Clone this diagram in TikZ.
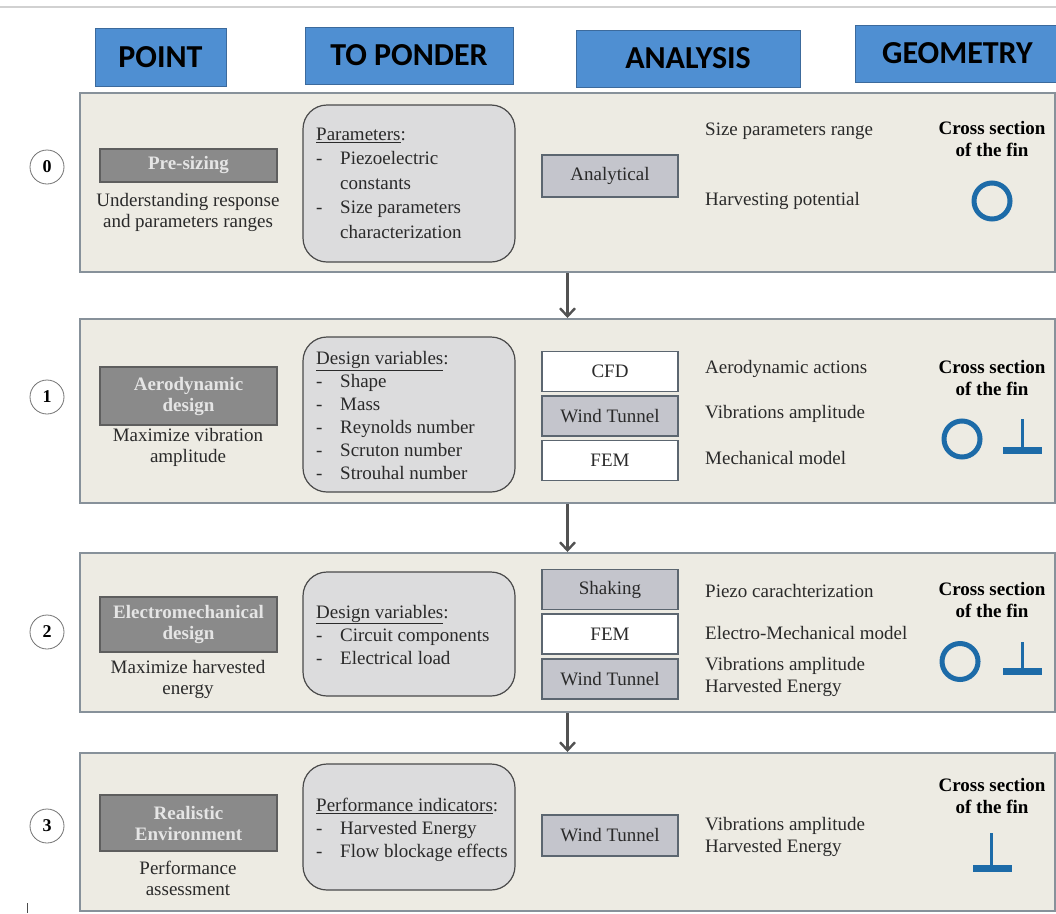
\documentclass[tikz,border=0pt]{standalone}
\usepackage{fontspec}
\setmainfont{Liberation Serif}
\newfontfamily\hdrfont{Carlito}
\usetikzlibrary{arrows.meta}
\definecolor{hdrblue}{HTML}{4F8FD2}
\definecolor{hdredge}{HTML}{3C6A9C}
\definecolor{panelfill}{HTML}{EDEBE3}
\definecolor{paneledge}{HTML}{87919A}
\definecolor{darkbox}{HTML}{8A8A8A}
\definecolor{darkedge}{HTML}{5E5E5E}
\definecolor{lightbox}{HTML}{C4C5CC}
\definecolor{lightedge}{HTML}{5C6670}
\definecolor{roundfill}{HTML}{DCDCDD}
\definecolor{roundedge}{HTML}{4A4A4A}
\definecolor{finblue}{HTML}{1D6BA8}
\definecolor{txt}{HTML}{2A2A2A}
\newcommand{\itm}[1]{\makebox[24pt][l]{-}#1}
\tikzset{
 hdr/.style={draw=hdredge, fill=hdrblue, line width=1pt, inner sep=0pt, font=\hdrfont\bfseries\fontsize{32}{34}\selectfont, text=black},
 panel/.style={draw=paneledge, fill=panelfill, line width=2pt, inner sep=0pt, minimum width=975pt},
 numc/.style={circle, draw=black!55, fill=white, line width=0.8pt, minimum size=34pt, inner sep=0pt, font=\bfseries\fontsize{18}{20}\selectfont},
 dbox/.style={draw=darkedge, fill=darkbox, line width=1.2pt, minimum width=177pt, inner sep=0pt, align=center, text=white!90!black, font=\bfseries\fontsize{19}{21}\selectfont},
 sub/.style={align=center, text=txt, inner sep=0pt, font=\fontsize{19}{21}\selectfont},
 rbox/.style={draw=roundedge, fill=roundfill, line width=1.2pt, rounded corners=24pt, minimum width=212pt, inner sep=0pt},
 lst/.style={anchor=west, align=left, inner sep=0pt, text=txt, font=\fontsize{19}{23}\selectfont},
 abox/.style={draw=lightedge, fill=lightbox, line width=1.5pt, minimum width=136pt, minimum height=40pt, inner sep=0pt, text=txt, font=\fontsize{19}{21}\selectfont},
 wbox/.style={abox, fill=white},
 lbl/.style={anchor=west, align=left, inner sep=0pt, text=txt, font=\fontsize{19}{22}\selectfont},
 cs/.style={align=center, inner sep=0pt, text=black, font=\bfseries\fontsize{19}{22}\selectfont},
 fin/.style={circle, draw=finblue, line width=5pt, inner sep=0pt, minimum size=36pt},
 arr/.style={draw=black!68, line width=2.4pt, -{Straight Barb[length=8pt,width=15pt,line width=2.4pt]}},
}
\begin{document}
\begin{tikzpicture}[x=1pt,y=-1pt]
\useasboundingbox (0,0) rectangle (1056,913);
\fill[white] (0,0) rectangle (1056,913);
\draw[black!18, line width=1.5pt] (0,7) -- (1056,7);

% headers
\node[hdr, minimum width=131pt, minimum height=58pt] (hpoint) at (160.5,57) {POINT};
\node[hdr, minimum width=208pt, minimum height=57pt] (hponder) at (409,55.5) {TO PONDER};
\node[hdr, minimum width=224pt, minimum height=57pt] (hanal) at (688,58.5) {ANALYSIS};
\node[hdr, minimum width=205pt, minimum height=57pt] (hgeom) at (957.5,53.5) {GEOMETRY};

% panels
\node[panel, minimum height=179pt] (p0) at (567.5,182.5) {};
\node[panel, minimum height=184pt] (p1) at (567.5,411) {};
\node[panel, minimum height=159pt] (p2) at (567.5,632.5) {};
\node[panel, minimum height=158pt] (p3) at (567.5,832) {};

\draw[arr] (p0.south) -- (p1.north);
\draw[arr] (p1.south) -- (p2.north);
\draw[arr] (p2.south) -- (p3.north);

% row 0
\node[numc] (n0) at (47,167) {0};
\node[dbox, minimum height=33pt] (b0) at (188.5,165.5) {Pre-sizing};
\node[sub] (s0) at (188,212) {Understanding response\\and parameters ranges};
\node[rbox, minimum height=157pt] (r0) at (409,183.5) {};
\node[lst, font=\fontsize{19}{24.5}\selectfont] (t0) at (316,183) {\underline{Parameters}:\\\itm{Piezoelectric}\\\hspace*{24pt}constants\\\itm{Size parameters}\\\hspace*{24pt}characterization};
\node[abox, minimum height=42pt] (a0) at (610,176) {Analytical};
\node[lbl] (l0a) at (705,131) {Size parameters range};
\node[lbl] (l0b) at (705,201) {Harvesting potential};
\node[cs] (c0) at (992,139) {Cross section\\of the fin};
\node[fin] (g0) at (992,201) {};

% row 1
\node[numc] (n1) at (47,397) {1};
\node[dbox, minimum height=58pt] (b1) at (188.5,396) {Aerodynamic\\design};
\node[sub] (s1) at (188,447.5) {Maximize vibration\\amplitude};
\node[rbox, minimum height=155pt] (r1) at (409,414.5) {};
\node[lst] (t1) at (316,415.5) {\underline{Design variables}:\\\itm{Shape}\\\itm{Mass}\\\itm{Reynolds number}\\\itm{Scruton number}\\\itm{Strouhal number}};
\node[wbox] (a1a) at (610,371.5) {CFD};
\node[abox] (a1b) at (610,416) {Wind Tunnel};
\node[wbox] (a1c) at (610,460.5) {FEM};
\node[lbl] (l1a) at (705,369) {Aerodynamic actions};
\node[lbl] (l1b) at (705,414) {Vibrations amplitude};
\node[lbl] (l1c) at (705,458) {Mechanical model};
\node[cs] (c1) at (992,378) {Cross section\\of the fin};
\node[fin] (g1) at (962,439) {};
\draw[finblue, line width=3pt] (1022,419) -- (1022,450);
\fill[finblue] (1003,447) rectangle (1042,454);

% row 2
\node[numc] (n2) at (47,632) {2};
\node[dbox, minimum height=55pt] (b2) at (188.5,624.5) {Electromechanical\\design};
\node[sub] (s2) at (188,679) {Maximize harvested\\energy};
\node[rbox, minimum height=124pt] (r2) at (409,634) {};
\node[lst] (t2) at (316,634.5) {\underline{Design variables}:\\\itm{Circuit components}\\\itm{Electrical load}};
\node[abox] (a2a) at (610,589.5) {Shaking};
\node[wbox] (a2b) at (610,634) {FEM};
\node[abox] (a2c) at (610,679) {Wind Tunnel};
\node[lbl] (l2a) at (705,591) {Piezo carachterization};
\node[lbl] (l2b) at (705,633) {Electro-Mechanical model};
\node[lbl] (l2c) at (705,676.5) {Vibrations amplitude\\Harvested Energy};
\node[cs] (c2) at (992,600) {Cross section\\of the fin};
\node[fin] (g2) at (960,661.5) {};
\draw[finblue, line width=3pt] (1022,642) -- (1022,671);
\fill[finblue] (1003,668) rectangle (1042,675);

% row 3
\node[numc] (n3) at (47,826) {3};
\node[dbox, minimum height=56pt] (b3) at (188.5,823) {Realistic\\Environment};
\node[sub] (s3) at (188,878) {Performance\\assessment};
\node[rbox, minimum height=126pt] (r3) at (409,827) {};
\node[lst] (t3) at (316,829.5) {\underline{Performance indicators}:\\\itm{Harvested Energy}\\\itm{Flow blockage effects}};
\node[abox, minimum height=41pt] (a3) at (610,835.5) {Wind Tunnel};
\node[lbl] (l3) at (705,837) {Vibrations amplitude\\Harvested Energy};
\node[cs] (c3) at (992,796) {Cross section\\of the fin};
\draw[finblue, line width=3pt] (991,833) -- (991,868);
\fill[finblue] (973,865) rectangle (1012,872);

\draw[black!70, line width=1pt] (27,903) -- (27,913);
\end{tikzpicture}
\end{document}
